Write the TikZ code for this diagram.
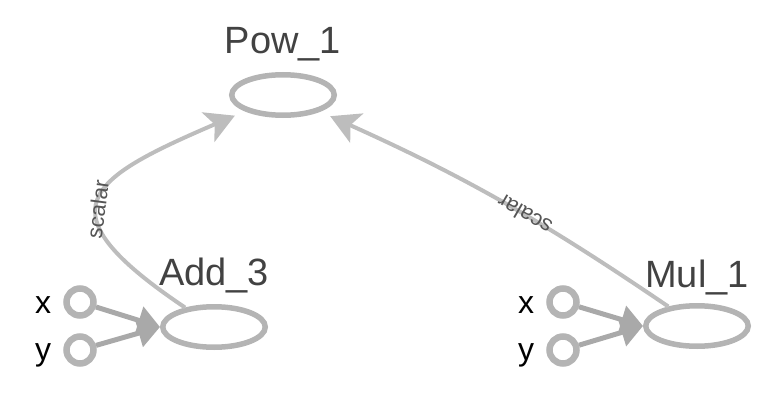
\documentclass[tikz,border=0pt]{standalone}
\usepackage{fontspec}
\setmainfont{Liberation Sans}
\usetikzlibrary{positioning}
\usetikzlibrary{arrows.meta}
\usetikzlibrary{shapes.geometric}
\usepackage{xcolor}

\definecolor{opgray}{HTML}{B4B4B4}
\definecolor{edgegray}{HTML}{BDBDBD}
\definecolor{feedgray}{HTML}{A9A9A9}
\definecolor{textgray}{HTML}{424242}
\definecolor{smallgray}{HTML}{555555}

\begin{document}
\begin{tikzpicture} [x=1pt, y=1pt, on grid,
        op/.style = {draw=opgray, ellipse, line width=5.5pt, minimum width=102.5pt, minimum height=40.5pt, inner sep=0pt},
        inp/.style = {draw=opgray, circle, line width=6.5pt, minimum size=27pt, inner sep=0pt},
        oplabel/.style = {text=textgray, font=\fontsize{38}{40}\selectfont, inner sep=0pt},
        inlabel/.style = {font=\fontsize{32}{34}\selectfont, inner sep=0pt},
        slabel/.style = {text=smallgray, font=\fontsize{22}{24}\selectfont, sloped, allow upside down, inner sep=0pt},
        tensor/.style = {draw=edgegray, line width=4pt, -{Stealth[length=29pt, width=32pt, inset=7pt]}, shorten >=11pt},
        feed/.style = {draw=feedgray, line width=5pt, -{Triangle[length=22pt, width=28pt]}}]
        \useasboundingbox (0,0) rectangle (773,-404);

        %Knoten
        \node[op] (pow) at (283,-95) {};
        \node[op] (add) [below left = 232pt and 69pt of pow] {};
        \node[op] (mul) [below right = 231pt and 414pt of pow] {};

        \node[oplabel] (powname) [above = 42pt of pow, anchor=base] {Pow\_1};
        \node[oplabel] (addname) [above = 42pt of add, anchor=base] {Add\_3};
        \node[oplabel] (mulname) [above = 39pt of mul, anchor=base] {Mul\_1};

        \node[inp] (addx) [above left = 25pt and 134pt of add] {};
        \node[inp] (addy) [below left = 23pt and 134pt of add] {};
        \node[inp] (mulx) [above left = 24pt and 134pt of mul] {};
        \node[inp] (muly) [below left = 24pt and 134pt of mul] {};

        \node[inlabel] (addxname) [below left = 11pt and 37pt of addx, anchor=base] {x};
        \node[inlabel] (addyname) [below left = 10pt and 37pt of addy, anchor=base] {y};
        \node[inlabel] (mulxname) [below left = 11pt and 37pt of mulx, anchor=base] {x};
        \node[inlabel] (mulyname) [below left = 10pt and 37pt of muly, anchor=base] {y};

        %Kanten
        \draw[feed] (addx) -- (add.west);
        \draw[feed] (addy) -- (add.west);
        \draw[feed] (mulx) -- (mul.west);
        \draw[feed] (muly) -- (mul.west);

        \draw[tensor] (add) .. controls +(-174,117) and +(-198,-85) .. node[slabel, pos=0.44] (addscalar) {scalar} (pow);
        \draw[tensor] (mul) to[bend right=5] node[slabel, pos=0.42] (mulscalar) {scalar} (pow);

    \end{tikzpicture}
\end{document}
